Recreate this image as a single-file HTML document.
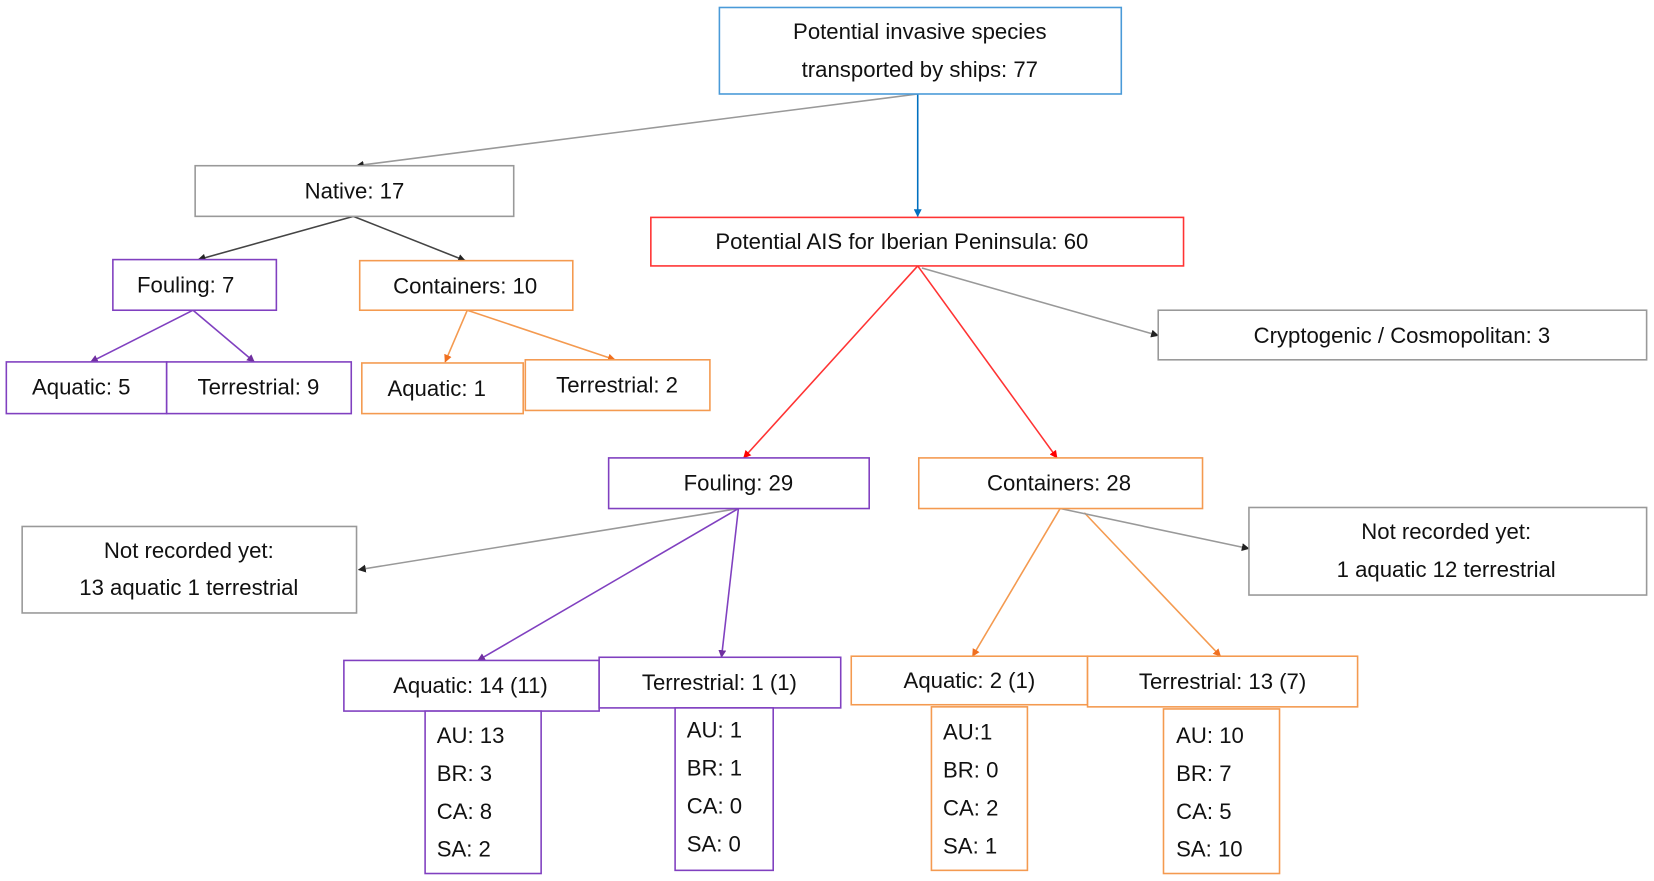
<!DOCTYPE html>
<html><head><meta charset="utf-8"><style>html,body{margin:0;padding:0;background:#fff}svg{display:block}text{font-family:"Liberation Sans",sans-serif;font-size:21px;fill:#111;text-anchor:middle;dominant-baseline:central}text.l{text-anchor:start}</style></head>
<body>
<svg width="1654" height="881" viewBox="0 0 1568 835" xmlns="http://www.w3.org/2000/svg">
<defs>
<marker id="ag" viewBox="0 0 10 10" refX="9" refY="5" markerWidth="5" markerHeight="5" orient="auto"><path d="M0,0L10,5L0,10z" fill="#222"/></marker>
<marker id="ab" viewBox="0 0 10 10" refX="9" refY="5" markerWidth="5" markerHeight="5" orient="auto"><path d="M0,0L10,5L0,10z" fill="#0070c0"/></marker>
<marker id="ar" viewBox="0 0 10 10" refX="9" refY="5" markerWidth="5" markerHeight="5" orient="auto"><path d="M0,0L10,5L0,10z" fill="#f00"/></marker>
<marker id="ap" viewBox="0 0 10 10" refX="9" refY="5" markerWidth="5" markerHeight="5" orient="auto"><path d="M0,0L10,5L0,10z" fill="#7030a0"/></marker>
<marker id="ao" viewBox="0 0 10 10" refX="9" refY="5" markerWidth="5" markerHeight="5" orient="auto"><path d="M0,0L10,5L0,10z" fill="#f07020"/></marker>
</defs>
<g fill="none" stroke-width="1.5">
<line x1="870" y1="89" x2="338" y2="157" stroke="#999" marker-end="url(#ag)"/>
<line x1="870" y1="89" x2="870" y2="205" stroke="#0070c0" marker-end="url(#ab)"/>
<line x1="335" y1="205" x2="188" y2="246" stroke="#444" marker-end="url(#ag)"/>
<line x1="335" y1="205" x2="441" y2="247" stroke="#444" marker-end="url(#ag)"/>
<line x1="183" y1="294" x2="86" y2="343" stroke="#8040c0" marker-end="url(#ap)"/>
<line x1="183" y1="294" x2="241" y2="343" stroke="#8040c0" marker-end="url(#ap)"/>
<line x1="443" y1="294" x2="422" y2="343" stroke="#f49a50" marker-end="url(#ao)"/>
<line x1="443" y1="294" x2="583" y2="341" stroke="#f49a50" marker-end="url(#ao)"/>
<line x1="870" y1="252" x2="705" y2="434" stroke="#f33" marker-end="url(#ar)"/>
<line x1="870" y1="252" x2="1002" y2="434" stroke="#f33" marker-end="url(#ar)"/>
<line x1="874" y1="254" x2="1098" y2="318" stroke="#999" marker-end="url(#ag)"/>
<line x1="700" y1="482" x2="340" y2="540" stroke="#999" marker-end="url(#ag)"/>
<line x1="700" y1="482" x2="453" y2="626" stroke="#8040c0" marker-end="url(#ap)"/>
<line x1="700" y1="482" x2="684" y2="623" stroke="#8040c0" marker-end="url(#ap)"/>
<line x1="1005" y1="482" x2="922" y2="622" stroke="#f49a50" marker-end="url(#ao)"/>
<line x1="1028" y1="486" x2="1157" y2="622" stroke="#f49a50" marker-end="url(#ao)"/>
<line x1="1005" y1="482" x2="1184" y2="520" stroke="#999" marker-end="url(#ag)"/>
</g>
<g fill="#fff" stroke-width="1.5">
<rect x="682" y="7" width="381" height="82" stroke="#4a9ad8"/>
<rect x="185" y="157" width="302" height="48" stroke="#999"/>
<rect x="617" y="206" width="505" height="46" stroke="#f33"/>
<rect x="107" y="246" width="155" height="48" stroke="#8040c0"/>
<rect x="341" y="247" width="202" height="47" stroke="#f49a50"/>
<rect x="6" y="343" width="152" height="49" stroke="#8040c0"/>
<rect x="158" y="343" width="175" height="49" stroke="#8040c0"/>
<rect x="343" y="344" width="153" height="48" stroke="#f49a50"/>
<rect x="498" y="341" width="175" height="48" stroke="#f49a50"/>
<rect x="1098" y="294" width="463" height="47" stroke="#999"/>
<rect x="577" y="434" width="247" height="48" stroke="#8040c0"/>
<rect x="871" y="434" width="269" height="48" stroke="#f49a50"/>
<rect x="21" y="499" width="317" height="82" stroke="#999"/>
<rect x="1184" y="481" width="377" height="83" stroke="#999"/>
<rect x="326" y="626" width="242" height="48" stroke="#8040c0"/>
<rect x="568" y="623" width="229" height="48" stroke="#8040c0"/>
<rect x="807" y="622" width="224" height="46" stroke="#f49a50"/>
<rect x="1031" y="622" width="256" height="48" stroke="#f49a50"/>
<rect x="403" y="674" width="110" height="154" stroke="#8040c0"/>
<rect x="640" y="671" width="93" height="154" stroke="#8040c0"/>
<rect x="883" y="670" width="91" height="155" stroke="#f49a50"/>
<rect x="1103" y="672" width="110" height="156" stroke="#f49a50"/>
</g>
<text x="872" y="30">Potential invasive species</text>
<text x="872" y="66">transported by ships: 77</text>
<text x="336" y="181">Native: 17</text>
<text x="855" y="229">Potential AIS for Iberian Peninsula: 60</text>
<text x="176" y="270">Fouling: 7</text>
<text x="441" y="271">Containers: 10</text>
<text x="77" y="367">Aquatic: 5</text>
<text x="245" y="367">Terrestrial: 9</text>
<text x="414" y="368">Aquatic: 1</text>
<text x="585" y="365">Terrestrial: 2</text>
<text x="1329" y="318">Cryptogenic / Cosmopolitan: 3</text>
<text x="700" y="458">Fouling: 29</text>
<text x="1004" y="458">Containers: 28</text>
<text x="179" y="522">Not recorded yet:</text>
<text x="179" y="557">13 aquatic 1 terrestrial</text>
<text x="1371" y="504">Not recorded yet:</text>
<text x="1371" y="540">1 aquatic 12 terrestrial</text>
<text x="446" y="650">Aquatic: 14 (11)</text>
<text x="682" y="647">Terrestrial: 1 (1)</text>
<text x="919" y="645">Aquatic: 2 (1)</text>
<text x="1159" y="646">Terrestrial: 13 (7)</text>
<text class="l" x="414" y="697">AU: 13</text><text class="l" x="414" y="733">BR: 3</text><text class="l" x="414" y="769">CA: 8</text><text class="l" x="414" y="805">SA: 2</text>
<text class="l" x="651" y="692">AU: 1</text><text class="l" x="651" y="728">BR: 1</text><text class="l" x="651" y="764">CA: 0</text><text class="l" x="651" y="800">SA: 0</text>
<text class="l" x="894" y="694">AU:1</text><text class="l" x="894" y="730">BR: 0</text><text class="l" x="894" y="766">CA: 2</text><text class="l" x="894" y="802">SA: 1</text>
<text class="l" x="1115" y="697">AU: 10</text><text class="l" x="1115" y="733">BR: 7</text><text class="l" x="1115" y="769">CA: 5</text><text class="l" x="1115" y="805">SA: 10</text>
</svg>
</body></html>
